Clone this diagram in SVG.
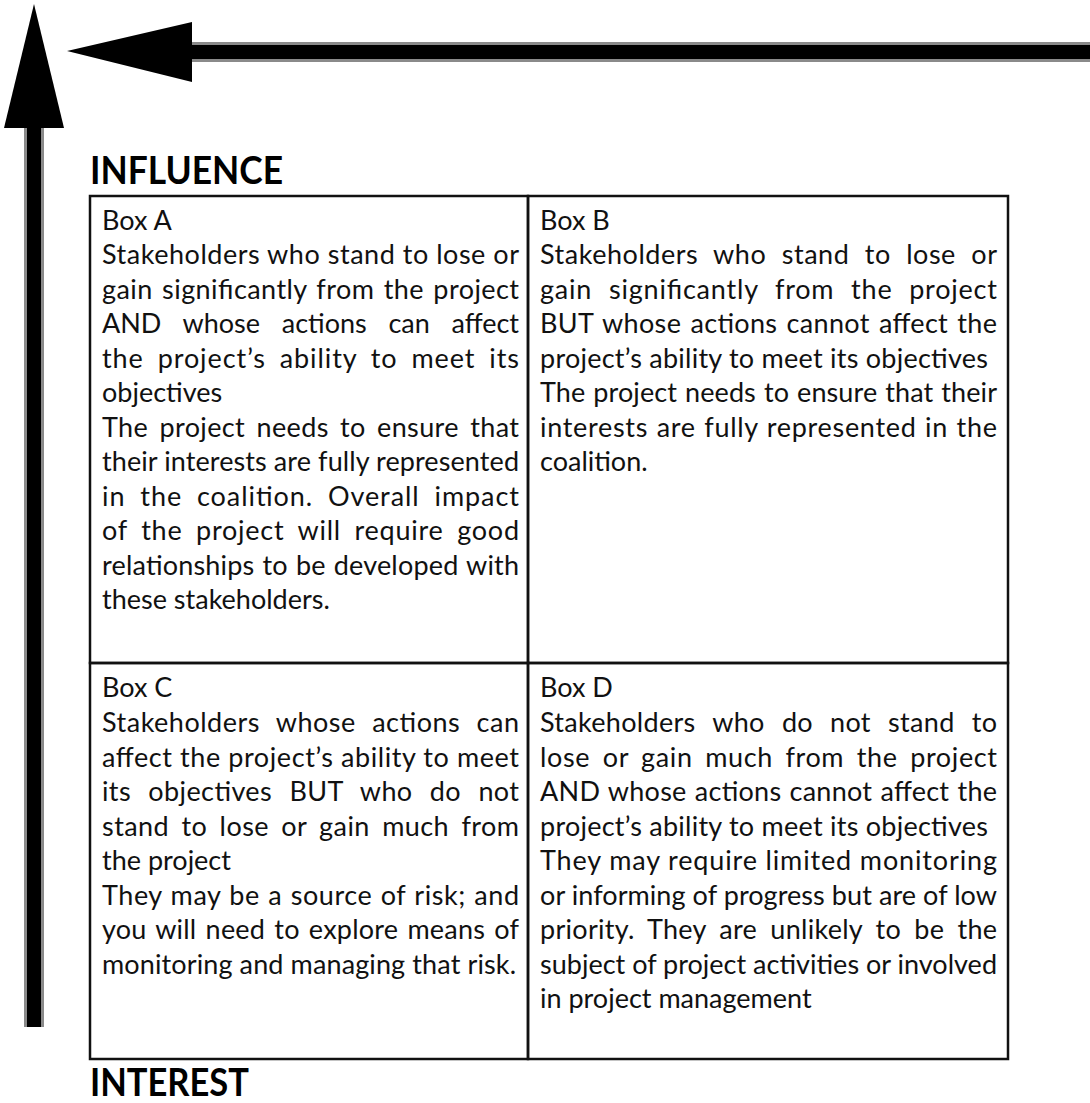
<svg xmlns="http://www.w3.org/2000/svg" width="1090" height="1103" viewBox="0 0 1090 1103">
  <style>
    .body { font-family: Lato, "Liberation Sans", sans-serif; font-size: 27px; fill: #111; }
    .axis-label { font-family: Lato, "Liberation Sans", sans-serif; font-size: 38px; font-weight: bold; fill: #000; }
    .cell { fill: none; stroke: #111; stroke-width: 2.5; }
    .shaft-edge { fill: #8a8a8a; }
    .shaft { fill: #000; }
    .head { fill: #000; }
  </style>

  <rect width="1090" height="1103" fill="#fff"/>

  <!-- axis arrows -->
  <g id="connectors">
    <!-- vertical: influence -->
    <rect class="shaft-edge" x="24" y="126" width="20" height="901"/>
    <rect class="shaft" x="27" y="126" width="14" height="901"/>
    <polygon class="head" points="34,4 64,128 4,128"/>
    <!-- horizontal: interest -->
    <rect class="shaft-edge" x="190" y="42" width="900" height="20"/>
    <rect class="shaft" x="190" y="45" width="900" height="14"/>
    <polygon class="head" points="67,51 192,22 192,82"/>
  </g>

  <text id="label-influence" class="axis-label" x="90" y="184" textLength="193" lengthAdjust="spacingAndGlyphs">INFLUENCE</text>
  <text id="label-interest" class="axis-label" x="90" y="1096" textLength="159" lengthAdjust="spacingAndGlyphs">INTEREST</text>

  <!-- Box A: high influence, high interest -->
  <g id="box-a">
    <rect class="cell" x="90" y="196" width="438" height="467"/>
    <text class="body" x="102" y="230">Box A</text>
    <text class="body" x="102" y="264" textLength="417" lengthAdjust="spacing">Stakeholders who stand to lose or</text>
    <text class="body" x="102" y="298.5" textLength="417" lengthAdjust="spacing" word-spacing="2">gain significantly from the project</text>
    <text class="body" x="102" y="333" textLength="417" lengthAdjust="spacing" word-spacing="15">AND whose actions can affect</text>
    <text class="body" x="102" y="367.5" textLength="417" lengthAdjust="spacing" word-spacing="6">the project’s ability to meet its</text>
    <text class="body" x="102" y="402">objectives</text>
    <text class="body" x="102" y="436.5" textLength="417" lengthAdjust="spacing" word-spacing="4">The project needs to ensure that</text>
    <text class="body" x="102" y="471" textLength="417" lengthAdjust="spacing">their interests are fully represented</text>
    <text class="body" x="102" y="505.5" textLength="417" lengthAdjust="spacing" word-spacing="7">in the coalition. Overall impact</text>
    <text class="body" x="102" y="540" textLength="417" lengthAdjust="spacing" word-spacing="6">of the project will require good</text>
    <text class="body" x="102" y="574.5" textLength="417" lengthAdjust="spacing" word-spacing="1">relationships to be developed with</text>
    <text class="body" x="102" y="609">these stakeholders.</text>
  </g>

  <!-- Box B: low influence, high interest -->
  <g id="box-b">
    <rect class="cell" x="528" y="196" width="480" height="467"/>
    <text class="body" x="540" y="230">Box B</text>
    <text class="body" x="540" y="264" textLength="457" lengthAdjust="spacing" word-spacing="8">Stakeholders who stand to lose or</text>
    <text class="body" x="540" y="298.5" textLength="457" lengthAdjust="spacing" word-spacing="9">gain significantly from the project</text>
    <text class="body" x="540" y="333" textLength="457" lengthAdjust="spacing" word-spacing="2">BUT whose actions cannot affect the</text>
    <text class="body" x="540" y="367.5" textLength="448" lengthAdjust="spacing">project’s ability to meet its objectives</text>
    <text class="body" x="540" y="402" textLength="457" lengthAdjust="spacing" word-spacing="1">The project needs to ensure that their</text>
    <text class="body" x="540" y="436.5" textLength="457" lengthAdjust="spacing" word-spacing="1">interests are fully represented in the</text>
    <text class="body" x="540" y="471">coalition.</text>
  </g>

  <!-- Box C: high influence, low interest -->
  <g id="box-c">
    <rect class="cell" x="90" y="663" width="438" height="396"/>
    <text class="body" x="102" y="697">Box C</text>
    <text class="body" x="102" y="732" textLength="417" lengthAdjust="spacing" word-spacing="9">Stakeholders whose actions can</text>
    <text class="body" x="102" y="766.5" textLength="417" lengthAdjust="spacing">affect the project’s ability to meet</text>
    <text class="body" x="102" y="801" textLength="417" lengthAdjust="spacing" word-spacing="10">its objectives BUT who do not</text>
    <text class="body" x="102" y="835.5" textLength="417" lengthAdjust="spacing" word-spacing="5">stand to lose or gain much from</text>
    <text class="body" x="102" y="870">the project</text>
    <text class="body" x="102" y="904.5" textLength="417" lengthAdjust="spacing" word-spacing="1">They may be a source of risk; and</text>
    <text class="body" x="102" y="939" textLength="417" lengthAdjust="spacing" word-spacing="2">you will need to explore means of</text>
    <text class="body" x="102" y="973.5" textLength="414" lengthAdjust="spacing">monitoring and managing that risk.</text>
  </g>

  <!-- Box D: low influence, low interest -->
  <g id="box-d">
    <rect class="cell" x="528" y="663" width="480" height="396"/>
    <text class="body" x="540" y="697">Box D</text>
    <text class="body" x="540" y="732" textLength="457" lengthAdjust="spacing" word-spacing="10">Stakeholders who do not stand to</text>
    <text class="body" x="540" y="766.5" textLength="457" lengthAdjust="spacing" word-spacing="5">lose or gain much from the project</text>
    <text class="body" x="540" y="801" textLength="457" lengthAdjust="spacing" word-spacing="1">AND whose actions cannot affect the</text>
    <text class="body" x="540" y="835.5" textLength="448" lengthAdjust="spacing">project’s ability to meet its objectives</text>
    <text class="body" x="540" y="870" textLength="457" lengthAdjust="spacing">They may require limited monitoring</text>
    <text class="body" x="540" y="904.5" textLength="457" lengthAdjust="spacing">or informing of progress but are of low</text>
    <text class="body" x="540" y="939" textLength="457" lengthAdjust="spacing" word-spacing="6">priority. They are unlikely to be the</text>
    <text class="body" x="540" y="973.5" textLength="457" lengthAdjust="spacing">subject of project activities or involved</text>
    <text class="body" x="540" y="1008">in project management</text>
  </g>
</svg>
